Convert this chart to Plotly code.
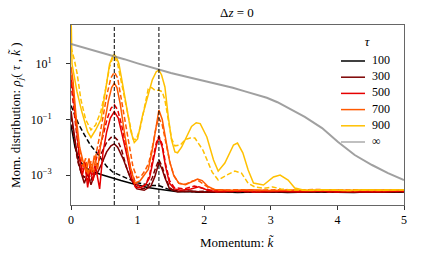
import numpy as np
import plotly.graph_objects as go

# Values as (k, log10(rho)) pairs.
tau_labels = ["100", "300", "500", "700", "900"]
tau_colors = ["#000000", "#7d0000", "#e60000", "#ff5a00", "#ffc000"]
inf_label = "∞"
inf_color = "rgba(128,128,128,0.75)"

tau100_solid = [(0, -1.2), (0.02, -1.5), (0.06, -2.0), (0.1, -2.3), (0.15, -2.55), (0.2, -2.7), (0.3, -2.85),
                (0.45, -2.98), (0.6, -3.1), (0.75, -3.2), (0.9, -3.3), (1.0, -3.37), (1.15, -3.45), (1.3, -3.5),
                (1.45, -3.55), (1.6, -3.6), (1.8, -3.6), (2.0, -3.62), (2.25, -3.6), (2.5, -3.63), (2.75, -3.61),
                (3.0, -3.6), (3.25, -3.63), (3.5, -3.62), (3.75, -3.6), (4.0, -3.62), (4.25, -3.63), (4.5, -3.6),
                (4.75, -3.62), (5.0, -3.61)]
tau100_dashed = [(0, -0.5), (0.05, -0.8), (0.11, -1.15), (0.2, -1.55), (0.29, -1.92), (0.37, -2.15), (0.44, -2.38),
                 (0.54, -2.7), (0.63, -2.9), (0.74, -3.03), (0.84, -3.12), (1.0, -3.28), (1.19, -3.38), (1.32, -3.38),
                 (1.45, -3.5), (1.6, -3.57), (1.8, -3.6), (2.0, -3.62), (2.3, -3.6), (2.6, -3.62), (2.9, -3.6),
                 (3.2, -3.62), (3.5, -3.6), (3.8, -3.62), (4.1, -3.61), (4.4, -3.6), (4.7, -3.62), (5.0, -3.6)]

tau300_solid = [(0, -0.7), (0.05, -1.6), (0.10, -2.4), (0.15, -2.9), (0.20, -3.3), (0.25, -2.95), (0.30, -3.35),
                (0.35, -3.0), (0.40, -2.9), (0.46, -2.6), (0.535, -2.17), (0.6, -1.95), (0.65, -1.88), (0.7, -2.0),
                (0.78, -2.4), (0.89, -3.1), (0.99, -3.5), (1.1, -3.55), (1.2, -3.4), (1.26, -3.05), (1.32, -2.55),
                (1.37, -2.8), (1.41, -3.1), (1.48, -3.5), (1.6, -3.6), (1.8, -3.58), (2.0, -3.62), (2.3, -3.6),
                (2.6, -3.58), (2.9, -3.61), (3.2, -3.6), (3.5, -3.62), (3.8, -3.59), (4.1, -3.61), (4.4, -3.6),
                (4.7, -3.62), (5.0, -3.6)]
tau300_dashed = [(0, -0.9), (0.05, -1.8), (0.1, -2.5), (0.15, -2.9), (0.2, -3.1), (0.25, -2.8), (0.3, -3.2),
                 (0.35, -2.8), (0.40, -2.6), (0.46, -2.2), (0.53, -1.85), (0.6, -1.65), (0.65, -1.62), (0.7, -1.75),
                 (0.76, -2.1), (0.83, -2.7), (0.9, -3.15), (0.97, -3.4), (1.05, -3.5), (1.15, -3.45), (1.22, -3.1),
                 (1.27, -2.75), (1.32, -2.45), (1.37, -2.7), (1.42, -3.1), (1.48, -3.45), (1.55, -3.58), (1.8, -3.6),
                 (2.1, -3.58), (2.4, -3.61), (2.7, -3.59), (3.0, -3.6), (3.3, -3.58), (3.6, -3.61), (3.9, -3.6),
                 (4.2, -3.58), (4.5, -3.61), (4.8, -3.6), (5.0, -3.59)]

tau500_solid = [(0, 0.5), (0.03, 0.0), (0.07, -1.0), (0.12, -2.2), (0.17, -3.0), (0.21, -2.6), (0.25, -3.45),
                (0.29, -2.8), (0.33, -3.2), (0.37, -2.7), (0.40, -3.1), (0.43, -3.5), (0.48, -2.2), (0.535, -1.45),
                (0.59, -0.95), (0.65, -0.72), (0.71, -0.95), (0.76, -1.45), (0.84, -2.3), (0.91, -3.1), (0.97, -3.45),
                (1.05, -3.45), (1.12, -3.35), (1.18, -3.1), (1.23, -2.5), (1.28, -1.95), (1.32, -1.63), (1.37, -2.0),
                (1.42, -2.7), (1.48, -3.3), (1.55, -3.5), (1.65, -3.55), (1.8, -3.5), (1.92, -3.42), (2.05, -3.55),
                (2.2, -3.6), (2.5, -3.58), (2.8, -3.61), (3.1, -3.58), (3.4, -3.6), (3.7, -3.58), (4.0, -3.61),
                (4.3, -3.59), (4.6, -3.6), (5.0, -3.58)]
tau500_dashed = [(0, 0.3), (0.03, -0.3), (0.07, -1.3), (0.12, -2.3), (0.17, -2.8), (0.21, -2.5), (0.25, -3.2),
                 (0.29, -2.6), (0.33, -3.0), (0.37, -2.5), (0.42, -2.1), (0.48, -1.6), (0.54, -1.0), (0.6, -0.6),
                 (0.65, -0.47), (0.7, -0.65), (0.76, -1.2), (0.83, -2.0), (0.9, -2.8), (0.97, -3.3), (1.05, -3.45),
                 (1.12, -3.35), (1.18, -3.0), (1.23, -2.4), (1.28, -1.85), (1.32, -1.6), (1.37, -1.9), (1.42, -2.6),
                 (1.48, -3.2), (1.55, -3.45), (1.7, -3.5), (1.85, -3.4), (1.95, -3.45), (2.1, -3.55), (2.4, -3.57),
                 (2.7, -3.6), (3.0, -3.57), (3.3, -3.59), (3.6, -3.56), (3.9, -3.6), (4.2, -3.57), (4.5, -3.59),
                 (4.8, -3.57), (5.0, -3.59)]

tau700_solid = [(0, 0.9), (0.03, 0.4), (0.08, -1.0), (0.13, -2.0), (0.18, -2.5), (0.23, -2.9), (0.27, -2.4),
                (0.31, -2.9), (0.35, -2.3), (0.40, -2.8), (0.44, -2.0), (0.50, -1.1), (0.56, -0.35), (0.61, 0.15),
                (0.65, 0.3), (0.69, 0.15), (0.74, -0.45), (0.81, -1.6), (0.89, -2.7), (0.96, -3.3), (1.04, -3.2),
                (1.10, -3.0), (1.16, -2.8), (1.22, -2.1), (1.27, -1.3), (1.32, -0.66), (1.37, -1.0), (1.42, -1.7),
                (1.48, -2.5), (1.54, -3.0), (1.62, -3.3), (1.72, -3.35), (1.82, -3.25), (1.9, -3.15), (1.97, -3.2),
                (2.05, -3.4), (2.15, -3.52), (2.4, -3.55), (2.7, -3.53), (3.0, -3.56), (3.3, -3.54), (3.6, -3.56),
                (3.9, -3.53), (4.2, -3.56), (4.5, -3.54), (4.8, -3.55), (5.0, -3.54)]
tau700_dashed = [(0, 0.6), (0.03, 0.2), (0.08, -1.2), (0.13, -2.1), (0.18, -2.7), (0.22, -2.4), (0.26, -3.0),
                 (0.30, -2.5), (0.34, -2.9), (0.38, -2.2), (0.43, -1.6), (0.48, -0.9), (0.54, -0.1), (0.60, 0.5),
                 (0.65, 0.7), (0.70, 0.5), (0.75, -0.2), (0.81, -1.1), (0.87, -2.0), (0.93, -2.7), (0.99, -3.1),
                 (1.05, -3.05), (1.11, -2.85), (1.17, -2.55), (1.23, -1.9), (1.28, -1.25), (1.32, -0.95), (1.37, -1.2),
                 (1.43, -1.9), (1.49, -2.6), (1.55, -3.05), (1.62, -3.3), (1.72, -3.33), (1.82, -3.22), (1.9, -3.18),
                 (1.98, -3.3), (2.08, -3.48), (2.2, -3.55), (2.5, -3.53), (2.8, -3.56), (3.1, -3.53), (3.4, -3.55),
                 (3.7, -3.52), (4.0, -3.55), (4.3, -3.53), (4.6, -3.56), (5.0, -3.54)]

tau900_solid = [(0, 2.5), (0.005, 2.3), (0.015, 1.0), (0.05, 0.5), (0.09, 0.0), (0.16, -0.7), (0.25, -1.45),
                (0.30, -1.65), (0.37, -1.38), (0.45, -1.0), (0.52, 0.17), (0.58, 1.0), (0.63, 1.3), (0.65, 1.33),
                (0.68, 1.25), (0.72, 1.0), (0.78, 0.2), (0.84, -0.7), (0.90, -1.45), (0.95, -1.83), (1.0, -1.7),
                (1.07, -0.9), (1.14, -0.3), (1.22, 0.42), (1.28, 0.72), (1.32, 0.78), (1.36, 0.6), (1.41, 0.17),
                (1.46, -0.9), (1.51, -1.74), (1.56, -2.17), (1.60, -2.2), (1.66, -2.0), (1.74, -1.6), (1.81, -1.25),
                (1.88, -1.12), (1.94, -1.15), (2.04, -1.63), (2.14, -2.46), (2.21, -2.86), (2.31, -2.57),
                (2.44, -1.92), (2.5, -1.85), (2.58, -2.2), (2.66, -2.82), (2.74, -3.29), (2.89, -3.36), (3.04, -3.07),
                (3.14, -3.0), (3.26, -3.18), (3.36, -3.47), (3.5, -3.55), (3.8, -3.53), (4.1, -3.56), (4.4, -3.53),
                (4.7, -3.55), (5.0, -3.53)]
tau900_dashed = [(0, 1.6), (0.05, 1.15), (0.09, 0.68), (0.15, -0.3), (0.22, -1.0), (0.30, -1.38), (0.37, -1.2),
                 (0.45, -0.7), (0.52, 0.1), (0.58, 0.9), (0.63, 1.25), (0.65, 1.28), (0.70, 1.0), (0.76, 0.3),
                 (0.82, -0.5), (0.88, -1.2), (0.93, -1.7), (0.98, -1.72), (1.04, -1.3), (1.10, -0.6), (1.16, 0.1),
                 (1.21, 0.15), (1.26, 0.05), (1.32, 0.05), (1.37, 0.0), (1.41, -0.3), (1.46, -1.0), (1.51, -1.7),
                 (1.56, -1.95), (1.64, -1.92), (1.72, -1.72), (1.79, -1.67), (1.86, -1.67), (1.98, -2.1),
                 (2.12, -2.9), (2.21, -3.18), (2.34, -3.0), (2.46, -2.86), (2.56, -2.93), (2.66, -3.3), (2.76, -3.43),
                 (2.9, -3.48), (3.03, -3.43), (3.15, -3.5), (3.3, -3.54), (3.6, -3.55), (3.9, -3.53), (4.2, -3.56),
                 (4.5, -3.54), (4.8, -3.55), (5.0, -3.53)]

tau_inf = [(0, 1.72), (0.25, 1.55), (0.5, 1.4), (0.65, 1.3), (0.8, 1.17), (1.0, 1.02), (1.32, 0.78), (1.5, 0.67),
           (1.75, 0.53), (1.94, 0.42), (2.2, 0.28), (2.43, 0.14), (2.6, 0.02), (2.76, -0.08), (2.94, -0.22),
           (3.1, -0.38), (3.26, -0.59), (3.51, -0.91), (3.77, -1.31), (4.01, -1.81), (4.26, -2.28), (4.52, -2.64),
           (4.76, -2.93), (5.0, -3.18)]

peak_k = [0.65, 1.32]

solid_series = [tau100_solid, tau300_solid, tau500_solid, tau700_solid, tau900_solid]
dashed_series = [tau100_dashed, tau300_dashed, tau500_dashed, tau700_dashed, tau900_dashed]

FONT = "Liberation Serif"
TXT = "#000000"
W, H = 421, 257
ML, MR, MT, MB = 71, 17, 25, 52
PW, PH = W - ML - MR, H - MT - MB


def xy(pairs):
    arr = np.array(pairs, dtype=float)
    return arr[:, 0], np.power(10.0, arr[:, 1])


def px_to_paper(px, py):
    return (px - ML) / PW, (H - MB - py) / PH


fig = go.Figure()
for lab, col, s, d in zip(tau_labels, tau_colors, solid_series, dashed_series):
    kx, ky = xy(s)
    fig.add_trace(go.Scatter(x=kx, y=ky, mode="lines", name=lab, showlegend=False, hoverinfo="skip",
                             line=dict(color=col, width=1.5)))
    kx, ky = xy(d)
    fig.add_trace(go.Scatter(x=kx, y=ky, mode="lines", showlegend=False, hoverinfo="skip",
                             line=dict(color=col, width=1.5, dash="5px,2.5px")))

kx, ky = xy(tau_inf)
fig.add_trace(go.Scatter(x=kx, y=ky, mode="lines", name=inf_label, showlegend=False, hoverinfo="skip",
                         line=dict(color=inf_color, width=2)))

for pk in peak_k:
    fig.add_shape(type="line", x0=pk, x1=pk, xref="x", yref="paper", y0=0, y1=1,
                  line=dict(color="black", width=1, dash="4px,2px"), layer="above")

# Legend, drawn by hand on an overlay axis measured in pixels so its row spacing matches the reference
leg_labels = tau_labels + [inf_label]
leg_colors = tau_colors + ["rgba(150,150,150,0.8)"]
LEG_LINE_X0, LEG_LINE_X1, LEG_TEXT_X = 341, 365, 372
LEG_Y0, LEG_DY = 61, 16.2
leg_y = [LEG_Y0 + LEG_DY * i for i in range(len(leg_labels))]
for yy, col in zip(leg_y, leg_colors):
    fig.add_trace(go.Scatter(x=[LEG_LINE_X0, LEG_LINE_X1], y=[yy, yy], xaxis="x2", yaxis="y2", mode="lines",
                             showlegend=False, hoverinfo="skip", line=dict(color=col, width=1.5)))
fig.add_trace(go.Scatter(x=[LEG_TEXT_X] * len(leg_labels), y=leg_y, xaxis="x2", yaxis="y2", mode="text",
                         text=leg_labels, textposition="middle right", showlegend=False, hoverinfo="skip",
                         textfont=dict(family=FONT, size=12, color=TXT)))
fig.add_trace(go.Scatter(x=[367], y=[43], xaxis="x2", yaxis="y2", mode="text", text=["<i>τ</i>"],
                         textposition="middle center", showlegend=False, hoverinfo="skip",
                         textfont=dict(family=FONT, size=13, color=TXT)))

# Title and axis titles
xt, yt = px_to_paper(237, 12)
fig.add_annotation(text="Δ<i>z</i> = 0", xref="paper", yref="paper", x=xt, y=yt, xanchor="center",
                   yanchor="middle", showarrow=False, font=dict(family=FONT, size=13, color=TXT))
xt, yt = px_to_paper(237, 243)
fig.add_annotation(text="Momentum: <i>k̃</i>", xref="paper", yref="paper", x=xt, y=yt, xanchor="center",
                   yanchor="middle", showarrow=False, font=dict(family=FONT, size=13, color=TXT))
xt, yt = px_to_paper(16, 115)
fig.add_annotation(text="Mom. distribution: <i>ρ<sub>j</sub></i>( <i>τ</i> , <i>k̃</i> )", xref="paper",
                   yref="paper", x=xt, y=yt, xanchor="center", yanchor="middle", textangle=-90,
                   showarrow=False, font=dict(family=FONT, size=13, color=TXT))

fig.update_layout(
    width=W, height=H,
    margin=dict(l=ML, r=MR, t=MT, b=MB, autoexpand=False),
    paper_bgcolor="white", plot_bgcolor="white",
    font=dict(family=FONT, size=12, color=TXT),
    showlegend=False,
    hovermode=False,
    xaxis2=dict(overlaying="x", range=[ML, W - MR], visible=False, fixedrange=True),
    yaxis2=dict(overlaying="y", range=[H - MB, MT], visible=False, fixedrange=True),
)
fig.update_xaxes(selector=dict(overlaying=None))
fig.layout.xaxis.update(range=[0, 5], tickvals=[0, 1, 2, 3, 4, 5], ticks="outside", ticklen=4, tickcolor="#333",
                        showline=True, mirror=True, linecolor="#666", linewidth=1, showgrid=False, zeroline=False,
                        tickfont=dict(family=FONT, size=12, color=TXT), automargin=False)
fig.layout.yaxis.update(type="log", range=[-4.08, 2.4], tickvals=[10, 0.1, 0.001],
                        ticktext=["10<sup>1</sup>", "10<sup>−1</sup>", "10<sup>−3</sup>"],
                        ticks="outside", ticklen=4, tickcolor="#333", ticklabelstandoff=12,
                        showline=True, mirror=True, linecolor="#666", linewidth=1, showgrid=False, zeroline=False,
                        tickfont=dict(family=FONT, size=12, color=TXT), automargin=False)

fig.write_html("out.html", config={"staticPlot": True, "displayModeBar": False},
               post_script="document.body.style.margin='0px';")
